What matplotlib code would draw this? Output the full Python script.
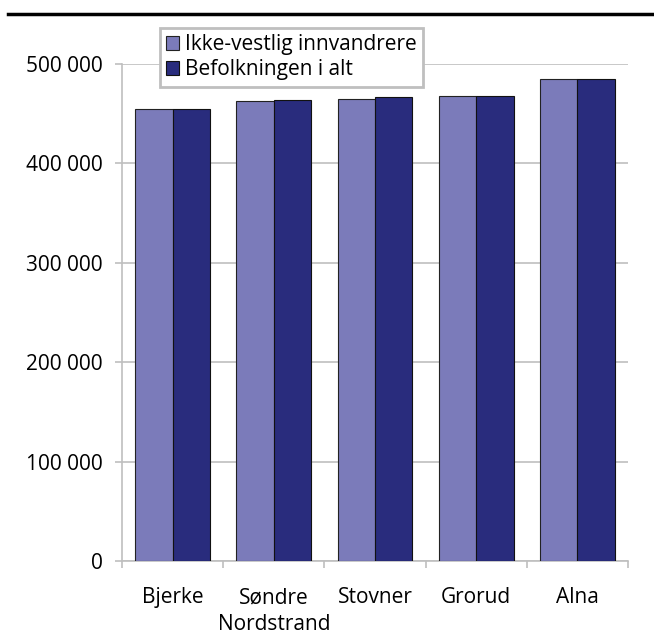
import matplotlib.pyplot as plt
import numpy as np

plt.rcParams['font.family'] = ['Open Sans', 'DejaVu Sans']

# Data
categories = ["Bjerke", "Søndre\nNordstrand", "Stovner", "Grorud", "Alna"]
ikke_vestlig = [454500, 462500, 464500, 468000, 484600]
befolkningen = [455000, 463500, 466500, 468300, 485000]
series_names = ["Ikke-vestlig innvandrere", "Befolkningen i alt"]
yticks = [0, 100000, 200000, 300000, 400000, 500000]

light = "#7B7BBA"
dark = "#292C7D"
grid_col = "#BFBFBF"
fs = 15

fig = plt.figure(figsize=(6.54, 6.35), dpi=100)
ax = fig.add_axes([122 / 654, 1 - 561 / 635, (628 - 122) / 654, (561 - 64) / 635])

x = np.arange(len(categories))
w = 0.37
ax.bar(x - w / 2, ikke_vestlig, w, color=light, edgecolor="#222222", linewidth=0.8,
       label=series_names[0], zorder=3)
ax.bar(x + w / 2, befolkningen, w, color=dark, edgecolor="#111111", linewidth=0.8,
       label=series_names[1], zorder=3)

ax.set_xlim(-0.5, len(categories) - 0.5)
ax.set_ylim(0, 500000)
ax.set_yticks(yticks)
ax.set_yticklabels([f"{v:,}".replace(",", " ") for v in yticks], fontsize=fs)
ax.yaxis.grid(True, color=grid_col, linewidth=1.2, zorder=0)
ax.tick_params(axis="y", length=5, width=1.2, color=grid_col, pad=9)

# category labels in the middle, tick marks at the boundaries
ax.set_xticks(np.arange(-0.5, len(categories)), minor=False)
ax.set_xticklabels([])
ax.tick_params(axis="x", length=5, color=grid_col, width=1.2)
ax.set_xticks(x, minor=True)
ax.set_xticklabels(categories, minor=True, fontsize=fs, linespacing=1.35)
ax.tick_params(axis="x", which="minor", length=0, pad=19)

for s in ["top", "right"]:
    ax.spines[s].set_visible(False)
for s in ["left", "bottom"]:
    ax.spines[s].set_color(grid_col)
    ax.spines[s].set_linewidth(1.2)

leg = ax.legend(loc="upper left", bbox_to_anchor=(38 / 506, 1 + 36 / 497), fontsize=fs,
                frameon=True, fancybox=False, edgecolor="#BFBFBF", handlelength=0.62,
                handleheight=0.62, handletextpad=0.3, borderpad=0.3, labelspacing=0.2,
                borderaxespad=0, framealpha=1)
leg.get_frame().set_linewidth(2)
leg.set_zorder(5)

# thick black line at the top
fig.add_artist(plt.Line2D([8 / 654, 1], [1 - 14 / 635, 1 - 14 / 635], color="black",
                          linewidth=2.5, transform=fig.transFigure))

fig.savefig("out.png", dpi=100)
